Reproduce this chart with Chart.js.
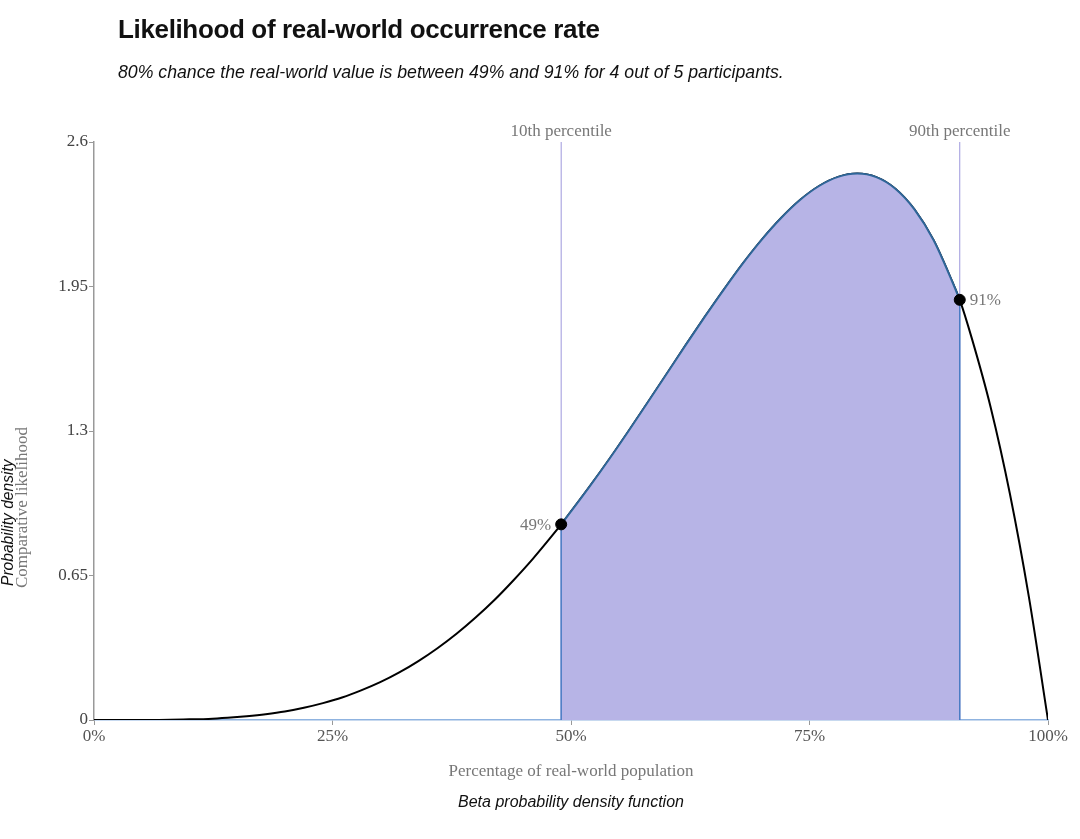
<!DOCTYPE html>
<html>
<head>
<meta charset="utf-8">
<title>Likelihood of real-world occurrence rate</title>
<script src="https://cdn.jsdelivr.net/npm/chart.js@4.4.1/dist/chart.umd.min.js"></script>
<style>
  body { margin: 0; background: #fff; }
  #wrap { position: relative; width: 1080px; height: 839px; }
  #wrap canvas { position: absolute; left: 0; top: 0; }
  .txt { position: absolute; white-space: nowrap; }
  #title { left: 118px; top: 16px; font: bold 26px/26px "Liberation Sans", sans-serif; letter-spacing: -0.35px; color: #111; }
  #subtitle { left: 118px; top: 63px; font: italic 17.7px/18px "Liberation Sans", sans-serif; color: #111; }
  #xtitle { left: 571px; top: 762px; transform: translateX(-50%); font: 17px/17px "Liberation Serif", serif; color: #777; }
  #caption { left: 571px; top: 794px; transform: translateX(-50%); font: italic 16px/16px "Liberation Sans", sans-serif; color: #111; }
  .rot { transform-origin: left top; transform: rotate(-90deg); }
  #ytitle1 { left: 0px; top: 586px; font: italic 15.6px/15px "Liberation Sans", sans-serif; color: #111; }
  #ytitle2 { left: 13px; top: 588px; font: 17px/17px "Liberation Serif", serif; color: #777; }
</style>
</head>
<body>
<div id="wrap">
  <canvas id="chart"></canvas>
  <div class="txt" id="title">Likelihood of real-world occurrence rate</div>
  <div class="txt" id="subtitle">80% chance the real-world value is between 49% and 91% for 4 out of 5 participants.</div>
  <div class="txt rot" id="ytitle1">Probability density</div>
  <div class="txt rot" id="ytitle2">Comparative likelihood</div>
  <div class="txt" id="xtitle">Percentage of real-world population</div>
  <div class="txt" id="caption">Beta probability density function</div>
</div>
<script>
// percentage of population (x) and density
const pctSteps = [0, 2, 4, 6, 8, 10, 12, 14, 16, 18, 20, 22, 24, 26, 28, 30, 32, 34, 36, 38, 40,
  42, 44, 46, 48, 50, 52, 54, 56, 58, 60, 62, 64, 66, 68, 70, 72, 74, 76, 78, 80,
  82, 84, 86, 88, 90, 92, 94, 96, 98, 100];
const density = [0, 0, 0, 0, 0.001, 0.003, 0.005, 0.01, 0.017, 0.026, 0.038, 0.055, 0.076, 0.101, 0.133, 0.17, 0.214, 0.265, 0.323, 0.388, 0.461,
  0.541, 0.63, 0.725, 0.828, 0.938, 1.053, 1.173, 1.298, 1.426, 1.555, 1.685, 1.812, 1.935, 2.053, 2.161, 2.257, 2.339, 2.402, 2.443, 2.458,
  2.442, 2.39, 2.297, 2.159, 1.968, 1.719, 1.405, 1.019, 0.553, 0];

// 10th and 90th percentile markers
const percentileX = [48.97, 90.75];
const percentileY = [0.88, 1.89];
const percentileNames = ["10th percentile", "90th percentile"];
const percentileLabels = ["49%", "91%"];

const xTicks = [0, 25, 50, 75, 100];
const yTicks = [0, 0.65, 1.3, 1.95, 2.6];
const yTickLabels = ["0", "0.65", "1.3", "1.95", "2.6"];

const ctx = document.getElementById("chart").getContext("2d");

// full curve including the marker points
const curve = [];
pctSteps.forEach((p, i) => curve.push({ x: p, y: density[i] }));
percentileX.forEach((p, i) => curve.push({ x: p, y: percentileY[i] }));
curve.sort((a, b) => a.x - b.x);

// shaded part between the percentiles
const band = curve.filter((pt) => pt.x >= percentileX[0] && pt.x <= percentileX[1]);

const yMax = yTicks[yTicks.length - 1];

const serif = "'Liberation Serif', 'Times New Roman', serif";

const labelPlugin = {
  id: "labels",
  afterDatasetsDraw(chart) {
    const c = chart.ctx;
    const xs = chart.scales.x;
    const ys = chart.scales.y;
    c.save();
    c.font = "17px " + serif;
    c.fillStyle = "#777";
    percentileX.forEach((p, i) => {
      const px = xs.getPixelForValue(p);
      c.textAlign = "center";
      c.textBaseline = "alphabetic";
      c.fillText(percentileNames[i], px, ys.getPixelForValue(yMax) - 6);
      c.textBaseline = "middle";
      const py = ys.getPixelForValue(percentileY[i]);
      if (i === 0) {
        c.textAlign = "right";
        c.fillText(percentileLabels[i], px - 10, py + 1);
      } else {
        c.textAlign = "left";
        c.fillText(percentileLabels[i], px + 10, py + 1);
      }
    });
    c.restore();
  },
};

new Chart(ctx, {
  type: "line",
  data: {
    datasets: [
      {
        label: "Percentiles",
        data: percentileX.map((p, i) => ({ x: p, y: percentileY[i] })),
        showLine: false,
        pointRadius: 5.5,
        pointBackgroundColor: "#000",
        pointBorderColor: "#000",
        clip: false,
      },
      {
        label: "Left edge",
        data: [{ x: percentileX[0], y: 0 }, { x: percentileX[0], y: percentileY[0] }],
        borderColor: "#4a7cc4",
        borderWidth: 1.5,
        pointRadius: 0,
      },
      {
        label: "Right edge",
        data: [{ x: percentileX[1], y: 0 }, { x: percentileX[1], y: percentileY[1] }],
        borderColor: "#4a7cc4",
        borderWidth: 1.5,
        pointRadius: 0,
      },
      {
        label: "80% band",
        data: band,
        borderColor: "#2f6699",
        borderWidth: 2,
        backgroundColor: "rgb(183, 180, 230)",
        fill: "origin",
        pointRadius: 0,
        cubicInterpolationMode: "monotone",
      },
      {
        label: "Density",
        data: curve,
        borderColor: "#000",
        borderWidth: 2,
        pointRadius: 0,
        fill: false,
        cubicInterpolationMode: "monotone",
      },
      {
        label: "10th",
        data: [{ x: percentileX[0], y: 0 }, { x: percentileX[0], y: yMax }],
        borderColor: "#9d97dc",
        borderWidth: 1,
        pointRadius: 0,
      },
      {
        label: "90th",
        data: [{ x: percentileX[1], y: 0 }, { x: percentileX[1], y: yMax }],
        borderColor: "#9d97dc",
        borderWidth: 1,
        pointRadius: 0,
      },
    ],
  },
  options: {
    responsive: true,
    maintainAspectRatio: false,
    animation: false,
    layout: { padding: { top: 142, right: 32, bottom: 79, left: 0 } },
    plugins: {
      legend: { display: false },
      tooltip: { enabled: false },
    },
    scales: {
      x: {
        type: "linear",
        min: 0,
        max: 100,
        afterBuildTicks: (s) => { s.ticks = xTicks.map((v) => ({ value: v })); },
        afterFit: (s) => { s.height = 40; },
        ticks: {
          callback: (v) => v + "%",
          color: "#555",
          font: { family: serif, size: 17 },
          padding: 1,
          maxRotation: 0,
        },
        grid: { drawOnChartArea: false, drawTicks: true, tickLength: 5, color: "#999" },
        border: { color: "#8fb3e0", width: 1.5 },
      },
      y: {
        min: 0,
        max: yMax,
        afterBuildTicks: (s) => { s.ticks = yTicks.map((v) => ({ value: v })); },
        afterFit: (s) => { s.width = 94; },
        ticks: {
          callback: (v, i) => yTickLabels[i],
          color: "#444",
          font: { family: serif, size: 17 },
          padding: 1,
        },
        grid: { drawOnChartArea: false, drawTicks: true, tickLength: 5, color: "#999" },
        border: { color: "#999", width: 1.5 },
      },
    },
  },
  plugins: [labelPlugin],
});
</script>
</body>
</html>
